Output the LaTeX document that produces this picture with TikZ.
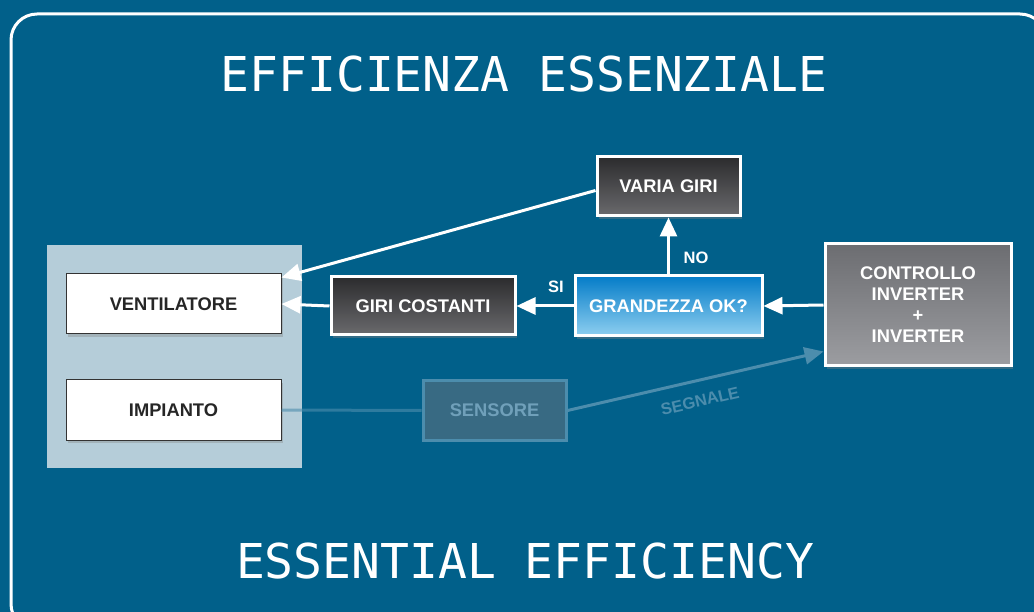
\documentclass[tikz,border=0pt]{standalone}
\usepackage{fontspec}
\setmainfont{Liberation Sans}
\newfontfamily\lcdfont{DejaVu Sans Mono}
\usetikzlibrary{arrows.meta}
\usetikzlibrary{shadows}
\tikzset{>={Triangle[length=19pt,width=17pt]}}
\definecolor{bgblue}{RGB}{1,96,138}
\definecolor{panelblue}{RGB}{181,205,217}
\definecolor{darktop}{RGB}{44,44,46}
\definecolor{darkbot}{RGB}{106,106,109}
\definecolor{okatop}{RGB}{4,124,200}
\definecolor{okabot}{RGB}{142,207,240}
\definecolor{ctrltop}{RGB}{108,109,113}
\definecolor{ctrlbot}{RGB}{156,157,161}
\definecolor{sensfill}{RGB}{56,106,131}
\definecolor{sensline}{RGB}{76,141,173}
\definecolor{senstext}{RGB}{112,160,186}
\tikzset{
  unitbox/.style={draw=black!80, line width=1pt, fill=white, text=black!85,
    minimum width=215pt, minimum height=60pt,
    drop shadow={shadow xshift=2pt, shadow yshift=-3pt, opacity=.35}},
  stepbox/.style={draw=white, line width=3pt, text=white,
    top color=darktop, bottom color=darkbot,
    drop shadow={shadow xshift=2pt, shadow yshift=-3pt, opacity=.4}},
  flow/.style={draw=white, line width=3pt, ->},
  faint/.style={draw=sensline, line width=3pt},
  tag/.style={text=white, font=\bfseries\fontsize{16.5}{18}\selectfont}
}
\begin{document}
\begin{tikzpicture}[x=1pt, y=-1pt, font=\bfseries\fontsize{18.3}{21}\selectfont]
      \useasboundingbox (0, 0) rectangle (1034, 612);
      % background and frame
      \fill[bgblue] (0, 0) rectangle (1034, 612);
      \begin{scope}
        \clip (0, 0) rectangle (1034, 612);
        \draw[white, line width=3pt, rounded corners=26pt] (11, 14) rectangle (1046, 630);
      \end{scope}
      \fill[panelblue] (47, 245) rectangle (302, 468);
      % titles
      \node[text=white, font=\lcdfont\fontsize{48}{52}\selectfont] (title) at (524, 74) {EFFICIENZA ESSENZIALE};
      \node[text=white, font=\lcdfont\fontsize{48}{52}\selectfont] (subtitle) at (525, 561) {ESSENTIAL EFFICIENCY};
      % boxes
      \node[unitbox] (vent) at (173.5, 304) {VENTILATORE};
      \node[unitbox] (imp) at (173.5, 410) {IMPIANTO};
      \node[stepbox, minimum width=184pt, minimum height=58pt] (giri) at (423, 306) {GIRI COSTANTI};
      \node[stepbox, minimum width=143pt, minimum height=59pt] (varia) at (668.5, 186.5) {VARIA GIRI};
      \node[stepbox, top color=okatop, bottom color=okabot,
        minimum width=187pt, minimum height=60pt] (ok) at (668.5, 306) {GRANDEZZA OK?};
      \node[stepbox, top color=ctrltop, bottom color=ctrlbot, align=center,
        minimum width=186pt, minimum height=122pt] (ctrl) at (918, 305)
        {CONTROLLO\\INVERTER\\+\\INVERTER};
      \node[draw=sensline, line width=3pt, fill=sensfill, text=senstext,
        minimum width=143pt, minimum height=59pt] (sens) at (494.5, 410.5) {SENSORE};
      % connectors
      \draw[flow] (ctrl.west) -- (ok.east);
      \draw[flow] (ok.west) -- (giri.east);
      \draw[flow] (giri.west) -- (vent.east);
      \draw[flow] (ok.north) -- (varia.south);
      \draw[flow] ([yshift=-4pt]varia.west) -- ([yshift=-4pt]vent.north east);
      \draw[faint, opacity=.6] (imp.east) -- (sens.west);
      \draw[faint, ->] (sens.east) -- ([yshift=16pt]ctrl.south west);
      % labels
      \node[tag] (si) at (556, 287) {SI};
      \node[tag] (no) at (696, 258) {NO};
      \node[tag, text=sensline, rotate=13] (segnale) at (700, 401) {SEGNALE};
    \end{tikzpicture}
\end{document}
